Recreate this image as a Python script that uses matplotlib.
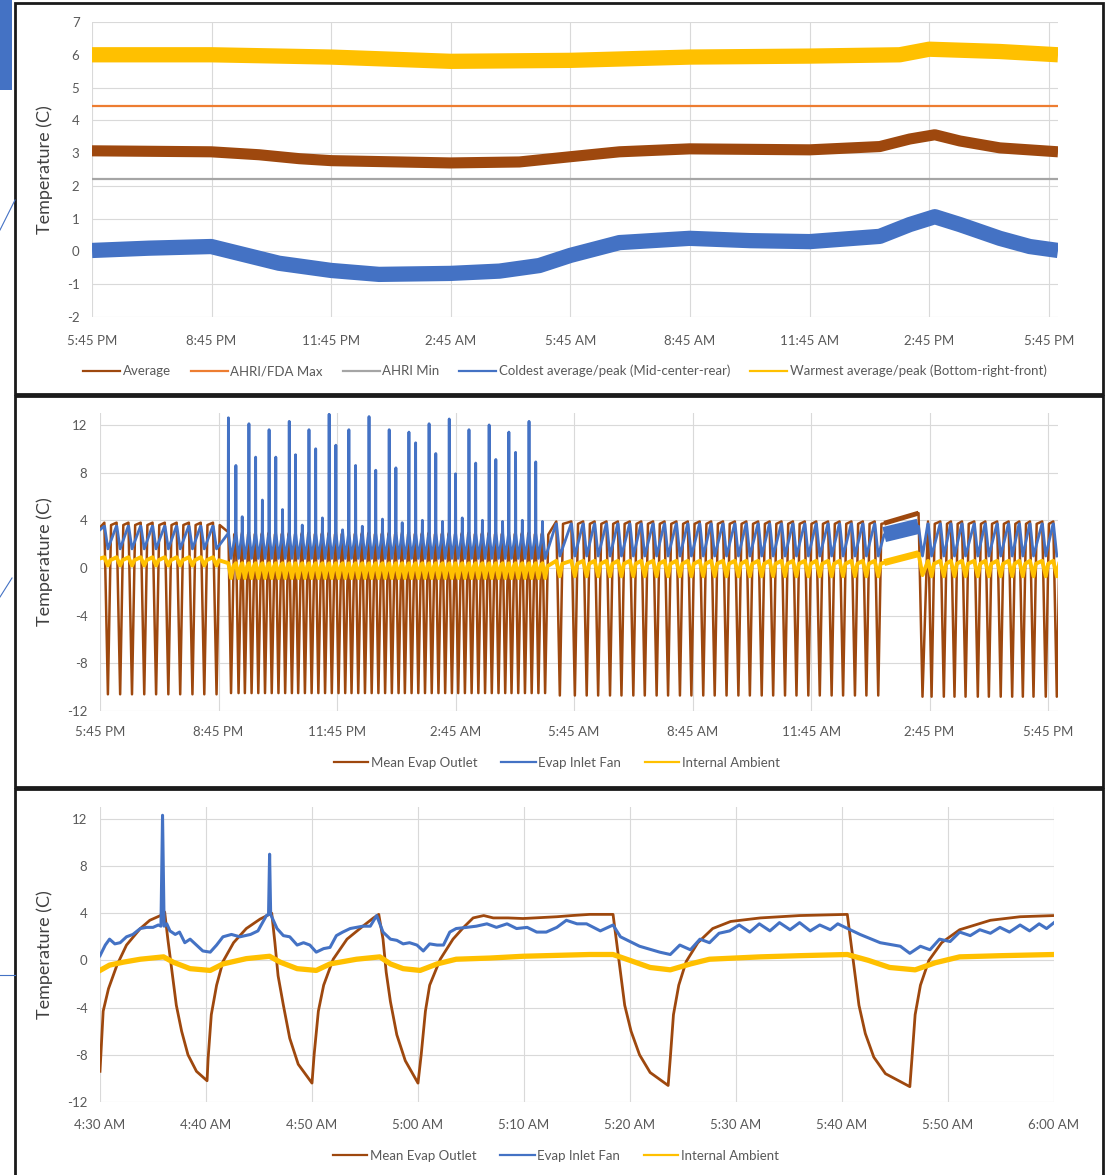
import matplotlib
matplotlib.use('Agg')
import matplotlib.pyplot as plt
from matplotlib.patches import Rectangle
from matplotlib.lines import Line2D

plt.rcParams['font.family'] = ['Lato', 'DejaVu Sans']
plt.rcParams['axes.unicode_minus'] = False

W, H = 1109, 1175

brown = '#9E480E'
orange = '#ED7D31'
grey = '#A5A5A5'
blue = '#4472C4'
yellow = '#FFC000'
gridc = '#D9D9D9'
txt = '#595959'

# ---------------- panel 1 : 24 h, hours after 5:45 PM ----------------
day_ticks = [0, 3, 6, 9, 12, 15, 18, 21, 24]
day_labels = ['5:45 PM', '8:45 PM', '11:45 PM', '2:45 AM', '5:45 AM',
              '8:45 AM', '11:45 AM', '2:45 PM', '5:45 PM']

avg_t = [0, 2.99, 4.19, 5.2, 6.0, 7.71, 8.99, 10.72, 12.0, 13.23, 14.99, 18.0,
         19.76, 20.51, 21.14, 21.77, 22.77, 24.23]
avg_v = [3.07, 3.04, 2.95, 2.83, 2.77, 2.73, 2.7, 2.73, 2.89, 3.04, 3.13, 3.1,
         3.2, 3.43, 3.56, 3.37, 3.16, 3.04]
cold_t = [0, 1.43, 2.99, 3.69, 4.69, 6.0, 7.2, 8.99, 10.22, 11.22, 12.0, 13.23,
          14.99, 16.5, 18.0, 19.76, 20.51, 21.14, 21.77, 22.77, 23.52, 24.23]
cold_v = [0.03, 0.1, 0.15, -0.06, -0.36, -0.58, -0.7, -0.67, -0.6, -0.43, -0.12,
          0.27, 0.4, 0.33, 0.3, 0.46, 0.82, 1.06, 0.82, 0.4, 0.15, 0.03]
warm_t = [0, 3, 6, 9, 12, 15, 18, 20.26, 21.0, 22.77, 24.23]
warm_v = [6.0, 6.0, 5.93, 5.8, 5.83, 5.93, 5.96, 6.0, 6.17, 6.1, 6.0]
ahri_max = 4.44
ahri_min = 2.22

# ---------------- panel 2 : compressor cycles ----------------
p2_start = [3.4, 3.2, 0.8]          # evap outlet, fan, ambient at 5:45 PM
# compressor start times (h after 5:45 PM) per segment
seg_on = [
    [0.11, 0.42, 0.72, 1.03, 1.33, 1.64, 1.94, 2.25, 2.55, 2.86],
    [3.25, 3.44, 3.60, 3.77, 3.94, 4.11, 4.28, 4.45, 4.62, 4.79, 4.95, 5.12,
     5.29, 5.46, 5.63, 5.80, 5.97, 6.14, 6.30, 6.47, 6.64, 6.81, 6.98, 7.15,
     7.32, 7.49, 7.65, 7.82, 7.99, 8.16, 8.33, 8.50, 8.67, 8.84, 9.00, 9.17,
     9.34, 9.51, 9.68, 9.85, 10.02, 10.19, 10.35, 10.52, 10.69, 10.86, 11.03, 11.20],
    [11.55, 11.93, 12.23, 12.52, 12.82, 13.11, 13.41, 13.70, 14.00, 14.29,
     14.59, 14.88, 15.18, 15.47, 15.77, 16.07, 16.36, 16.66, 16.95, 17.25,
     17.54, 17.84, 18.13, 18.43, 18.72, 19.02, 19.31, 19.61],
    [20.96, 21.27, 21.54, 21.82, 22.13, 22.41, 22.71, 23.00, 23.27, 23.54,
     23.85, 24.13],
]
seg_on_len = [0.09, 0.067, 0.09, 0.09]
seg_evap_hi = [3.8, 3.0, 3.9, 3.9]
seg_evap_lo = [-10.6, -10.5, -10.7, -10.8]
seg_fan_hi = [3.5, 2.9, 3.7, 3.7]
seg_fan_lo = [1.6, 0.8, 1.0, 1.0]
seg_amb_hi = [0.9, 0.4, 0.6, 0.6]
seg_amb_lo = [0.2, -0.85, -0.7, -0.7]
# evap inlet fan peak at each start of the 10-minute cycles
dense_spike = [12.6, 8.6, 4.3, 12.1, 9.3, 5.7, 11.6, 9.3, 4.9, 12.3, 9.5, 3.6,
               11.6, 10.0, 4.2, 12.9, 10.3, 3.2, 11.6, 8.6, 3.5, 12.7, 8.2, 4.1,
               11.6, 8.4, 3.8, 11.4, 10.5, 4.0, 12.1, 9.6, 3.9, 12.5, 7.9, 4.2,
               11.6, 8.8, 4.0, 12.0, 9.1, 3.9, 11.4, 9.7, 4.0, 12.3, 8.9, 3.9]
# defrost period
defrost_t = [19.85, 20.72, 20.82]
defrost_evap = [3.75, 4.6, -10.8]
defrost_fan = [2.8, 3.5, 1.0]
defrost_amb = [0.45, 1.2, -0.6]

# ---------------- panel 3 : minutes after 4:30 AM ----------------
zoom_ticks = [0, 10, 20, 30, 40, 50, 60, 70, 80, 90]
zoom_labels = ['4:30 AM', '4:40 AM', '4:50 AM', '5:00 AM', '5:10 AM',
               '5:20 AM', '5:30 AM', '5:40 AM', '5:50 AM', '6:00 AM']
evap_m = [0, 0.3, 0.8, 1.6, 2.5, 3.8, 4.7, 5.7, 6.1, 6.4, 6.8, 7.2, 7.7, 8.3, 9.1,
          10.1, 10.2, 10.5, 11.0, 11.6, 12.6, 13.8, 15.1, 16.2, 16.5, 16.8, 17.3,
          17.9, 18.7, 20.0, 20.2, 20.6, 21.1, 22.0, 23.3, 24.8, 25.8, 26.3, 26.7,
          27.0, 27.4, 28.0, 28.8, 30.0, 30.3, 30.7, 31.1, 32.1, 33.3, 34.3, 35.2,
          36.2, 37.1, 38.5, 39.9, 41.0, 43.1, 44.5, 46.2, 48.4, 48.7, 49.1, 49.5,
          50.1, 50.9, 51.9, 53.6, 53.8, 54.1, 54.6, 55.3, 56.4, 57.8, 59.5, 62.3,
          66.0, 70.5, 70.8, 71.2, 71.6, 72.2, 73.0, 74.1, 76.4, 76.6, 76.9, 77.4,
          78.2, 79.4, 81.1, 84.0, 86.8, 90.0]
evap_v = [-9.4, -4.3, -2.4, -0.4, 1.3, 2.7, 3.4, 3.8, 4.1, 1.8, -1.0, -3.8, -6.0,
          -8.0, -9.4, -10.2, -8.3, -4.6, -2.1, -0.1, 1.5, 2.7, 3.5, 4.0, 1.5, -1.3,
          -3.8, -6.6, -8.8, -10.4, -8.0, -4.3, -2.1, 0.1, 1.8, 2.9, 3.6, 3.9, 1.8,
          -1.0, -3.5, -6.3, -8.5, -10.4, -8.0, -4.3, -2.1, 0.1, 1.8, 2.8, 3.6, 3.8,
          3.6, 3.6, 3.55, 3.6, 3.7, 3.8, 3.9, 3.9, 1.8, -1.0, -3.8, -6.0, -8.0,
          -9.5, -10.6, -8.3, -4.6, -2.1, -0.1, 1.5, 2.7, 3.3, 3.6, 3.8, 3.9, 1.8,
          -1.0, -3.8, -6.2, -8.2, -9.6, -10.7, -8.3, -4.6, -2.1, 0.0, 1.5, 2.6,
          3.4, 3.7, 3.8]
fan_m = [0, 0.5, 0.9, 1.4, 1.9, 2.5, 3.1, 3.8, 4.4, 5.0, 5.5, 5.75, 5.9, 6.05,
         6.3, 6.6, 7.1, 7.5, 8.0, 8.5, 9.1, 9.7, 10.4, 11.0, 11.6, 12.4, 13.2,
         14.2, 14.9, 15.7, 15.9, 16.0, 16.1, 16.7, 17.3, 17.9, 18.6, 19.2, 19.8,
         20.4, 21.1, 21.7, 22.3, 22.9, 23.6, 24.2, 24.8, 25.5, 26.1, 26.7, 27.4,
         28.0, 28.6, 29.2, 29.9, 30.5, 31.1, 31.8, 32.4, 33.0, 33.6, 34.6, 35.5,
         36.5, 37.4, 38.4, 39.3, 40.3, 41.2, 42.1, 43.1, 44.0, 45.0, 45.9, 47.2,
         48.4, 49.1, 50.9, 52.8, 53.8, 54.7, 55.7, 56.6, 57.5, 58.4, 59.4, 60.3,
         61.3, 62.2, 63.2, 64.1, 65.1, 66.0, 67.0, 67.9, 68.9, 69.6, 70.3, 71.7,
         73.6, 75.5, 76.4, 77.4, 78.3, 79.2, 80.2, 81.1, 82.1, 83.0, 84.0, 84.9,
         85.8, 86.8, 87.7, 88.6, 89.3, 90.0]
fan_v = [0.4, 1.3, 1.8, 1.4, 1.5, 2.0, 2.2, 2.7, 2.8, 2.8, 3.0, 2.9, 12.3, 2.9,
         3.1, 2.5, 2.2, 2.4, 1.5, 1.8, 1.3, 0.8, 0.7, 1.3, 2.0, 2.2, 2.0, 2.2, 2.5,
         3.8, 3.9, 9.0, 3.9, 2.7, 2.1, 2.0, 1.3, 1.5, 1.3, 0.7, 1.0, 1.1, 2.1, 2.4,
         2.7, 2.8, 2.9, 2.9, 3.8, 2.4, 1.8, 1.7, 1.4, 1.5, 1.3, 0.8, 1.4, 1.3, 1.3,
         2.4, 2.7, 2.8, 2.9, 3.1, 2.8, 3.1, 2.7, 2.8, 2.4, 2.4, 2.8, 3.4, 3.1, 3.1,
         2.5, 3.0, 2.0, 1.2, 0.7, 0.5, 1.3, 0.9, 1.8, 1.5, 2.3, 2.5, 3.0, 2.4, 3.1,
         2.5, 3.2, 2.6, 3.2, 2.5, 3.0, 2.6, 3.1, 2.8, 2.2, 1.5, 1.2, 0.6, 1.2, 0.9,
         1.8, 1.6, 2.4, 2.1, 2.6, 2.3, 2.8, 2.4, 3.0, 2.5, 3.1, 2.7, 3.2]
amb_m = [0, 0.9, 2.2, 3.8, 6.0, 6.9, 8.5, 10.4, 11.6, 13.8, 16.0, 17.0, 18.6,
         20.4, 21.7, 24.2, 26.4, 27.4, 28.6, 30.2, 31.8, 33.6, 36.8, 39.9, 46.2,
         48.4, 50.0, 51.9, 53.8, 55.7, 57.5, 62.3, 66.0, 70.5, 72.5, 74.5, 76.9,
         78.8, 81.1, 85.0, 90.0]
amb_v = [-0.85, -0.4, -0.15, 0.1, 0.3, -0.15, -0.7, -0.85, -0.3, 0.15, 0.35,
         -0.15, -0.7, -0.85, -0.3, 0.1, 0.3, -0.3, -0.7, -0.85, -0.3, 0.1, 0.2,
         0.35, 0.5, 0.5, 0.0, -0.6, -0.8, -0.3, 0.1, 0.3, 0.4, 0.5, 0.0, -0.6,
         -0.8, -0.2, 0.3, 0.4, 0.5]

legend1 = ['Average', 'AHRI/FDA Max', 'AHRI Min',
           'Coldest average/peak (Mid-center-rear)',
           'Warmest average/peak (Bottom-right-front)']
legend2 = ['Mean Evap Outlet', 'Evap Inlet Fan', 'Internal Ambient']


def box(l, t, r, b):
    return [l / W, 1 - b / H, (r - l) / W, (b - t) / H]


def style(ax, xlim, ylim, yticks, xticks, xlabels, xpad, ypad):
    ax.set_xlim(*xlim)
    ax.set_ylim(*ylim)
    ax.set_yticks(yticks)
    ax.set_xticks(xticks)
    ax.set_xticklabels(xlabels)
    for s in ax.spines.values():
        s.set_visible(False)
    ax.grid(True, color=gridc, lw=0.8)
    ax.set_axisbelow(True)
    ax.tick_params(length=0, labelsize=9.5, labelcolor=txt)
    ax.tick_params(axis='x', pad=xpad)
    ax.tick_params(axis='y', pad=ypad)
    ax.set_ylabel('Temperature (C)', fontsize=13, color='#404040', labelpad=10)


def cycles():
    # builds the three panel-2 series from the cycle tables
    et, ev = [0], [p2_start[0]]
    ft, fv = [0], [p2_start[1]]
    at, av = [0], [p2_start[2]]
    for k, ons in enumerate(seg_on):
        for i, on in enumerate(ons):
            off = on + seg_on_len[k]
            et += [on, off, off + 0.08]
            ev += [seg_evap_hi[k], seg_evap_lo[k], seg_evap_hi[k] - 0.2]
            top = dense_spike[i] if k == 1 else seg_fan_hi[k]
            ft += [on - 0.006, on, on + 0.006, off]
            fv += [seg_fan_hi[k], top, seg_fan_hi[k], seg_fan_lo[k]]
            at += [on, off, off + 0.06]
            av += [seg_amb_hi[k], seg_amb_lo[k], seg_amb_hi[k] - 0.25]
        if k == 2:
            et += defrost_t
            ev += defrost_evap
            ft += defrost_t
            fv += defrost_fan
            at += defrost_t
            av += defrost_amb
    return et, ev, ft, fv, at, av


fig = plt.figure(figsize=(W / 100, H / 100), dpi=100)

# panel 1
ax1 = fig.add_axes(box(92, 22, 1058, 317))
ax1.plot(avg_t, avg_v, color=brown, lw=8, solid_capstyle='butt')
ax1.axhline(ahri_max, color=orange, lw=1.6)
ax1.axhline(ahri_min, color=grey, lw=1.6)
ax1.plot(cold_t, cold_v, color=blue, lw=11, solid_capstyle='butt')
ax1.plot(warm_t, warm_v, color=yellow, lw=11, solid_capstyle='butt')
style(ax1, (0, 24.23), (-2, 7), range(-2, 8), day_ticks, day_labels, 13, 9)

# panel 2
ax2 = fig.add_axes(box(100, 413, 1058, 711))
et, ev, ft, fv, at, av = cycles()
ax2.plot(et, ev, color=brown, lw=1.8)
ax2.plot(defrost_t[:2], defrost_evap[:2], color=brown, lw=3.5, solid_capstyle='butt')
ax2.plot(ft, fv, color=blue, lw=2.0)
ax2.plot(defrost_t[:2], defrost_fan[:2], color=blue, lw=11, solid_capstyle='butt')
ax2.plot(at, av, color=yellow, lw=2.8)
ax2.plot(defrost_t[:2], defrost_amb[:2], color=yellow, lw=5, solid_capstyle='butt')
style(ax2, (0, 24.25), (-12, 13), range(-12, 13, 4), day_ticks, day_labels, 11, 9)

# panel 3
ax3 = fig.add_axes(box(100, 807, 1054, 1102))
ax3.plot(evap_m, evap_v, color=brown, lw=2)
ax3.plot(fan_m, fan_v, color=blue, lw=2.2)
ax3.plot(amb_m, amb_v, color=yellow, lw=3.8)
style(ax3, (0, 90), (-12, 13), range(-12, 13, 4), zoom_ticks, zoom_labels, 12, 9)

# legends
h1 = [Line2D([], [], color=c, lw=1.6) for c in (brown, orange, grey, blue, yellow)]
fig.legend(h1, legend1, loc='center', bbox_to_anchor=(565 / W, 1 - 371 / H), ncol=5,
           frameon=False, fontsize=9.5, handlelength=2.8, handletextpad=0.2,
           columnspacing=1.5, labelcolor=txt)
h2 = [Line2D([], [], color=c, lw=1.6) for c in (brown, blue, yellow)]
fig.legend(h2, legend2, loc='center', bbox_to_anchor=(557 / W, 1 - 763 / H), ncol=3,
           frameon=False, fontsize=9.5, handlelength=2.6, handletextpad=0.2,
           columnspacing=1.8, labelcolor=txt)
fig.legend(h2, legend2, loc='center', bbox_to_anchor=(556 / W, 1 - 1156 / H), ncol=3,
           frameon=False, fontsize=9.5, handlelength=2.6, handletextpad=0.2,
           columnspacing=1.8, labelcolor=txt)

# panel frames and slide decorations
for top, bot in ((3, 394), (396, 787), (789, 1185)):
    fig.add_artist(Rectangle((15 / W, 1 - bot / H), (1103 - 15) / W, (bot - top) / H,
                             transform=fig.transFigure, fill=False, ec='#1a1a1a', lw=2))
fig.add_artist(Rectangle((0, 1 - 90 / H), 12 / W, 90 / H, transform=fig.transFigure,
                         fc='#4472C4', ec='none'))
for xs, ys in (((0, 15), (230, 200)), ((0, 12), (597, 578)), ((0, 15), (975, 975))):
    fig.add_artist(Line2D([x / W for x in xs], [1 - y / H for y in ys],
                          transform=fig.transFigure, color='#4472C4', lw=0.8))

plt.savefig('out.png', dpi=100)
